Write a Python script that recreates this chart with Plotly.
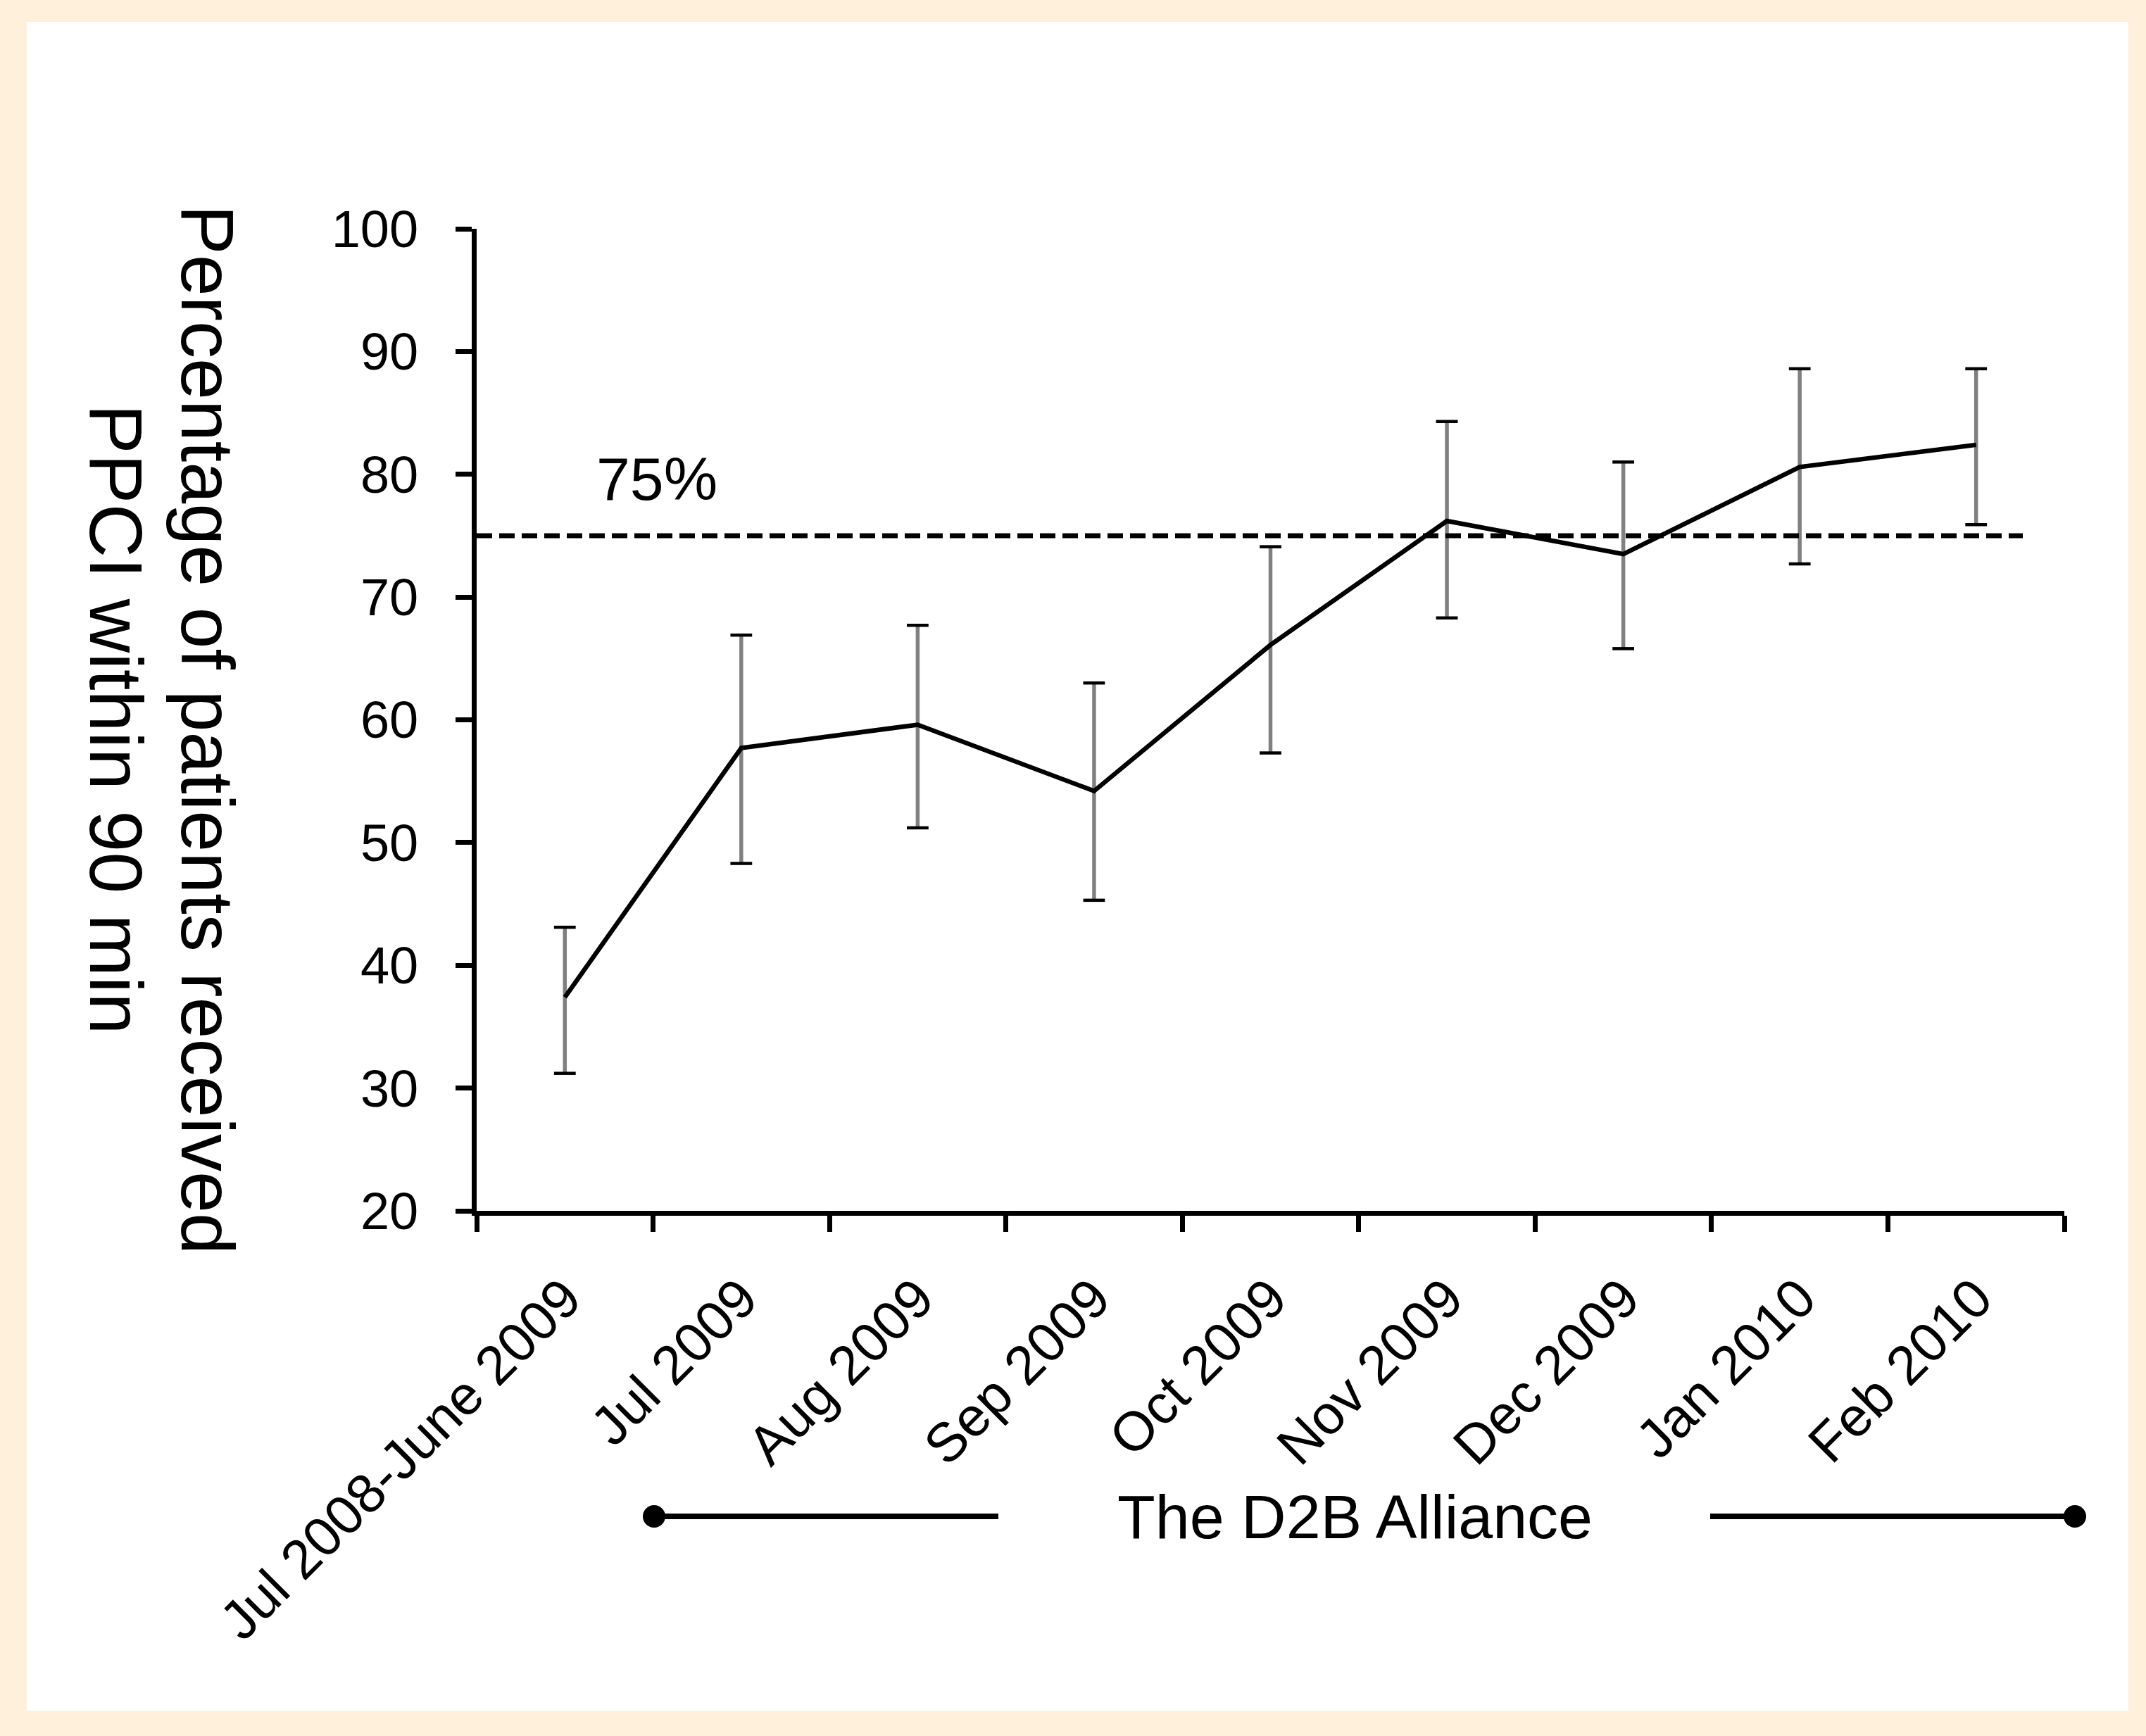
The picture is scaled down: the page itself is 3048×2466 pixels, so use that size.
import plotly.graph_objects as go

# ---------------- data ----------------
categories = ["Jul 2008-June 2009", "Jul 2009", "Aug 2009", "Sep 2009", "Oct 2009",
              "Nov 2009", "Dec 2009", "Jan 2010", "Feb 2010"]
pct_within_90 = [37.4, 57.7, 59.6, 54.2, 66.1, 76.2, 73.5, 80.6, 82.4]
ci_upper = [43.1, 66.9, 67.7, 63.0, 74.1, 84.3, 81.0, 88.6, 88.6]
ci_lower = [31.2, 48.3, 51.2, 45.3, 57.3, 68.3, 65.8, 72.7, 75.9]
target_pct = 75
y_ticks = [20, 30, 40, 50, 60, 70, 80, 90, 100]

# ---------------- geometry (pixels) ----------------
W, H = 3048, 2466
L, R, T, B = 677, 116, 325, 746
PW, PH = W - L - R, H - T - B


def px(xp):
    return (xp - L) / PW


def py(yp):
    return (H - B - yp) / PH


FONT = "Liberation Sans, Arial, sans-serif"

err_plus = [u - v for u, v in zip(ci_upper, pct_within_90)]
err_minus = [v - l for v, l in zip(pct_within_90, ci_lower)]

fig = go.Figure()

# gray error bar stems
fig.add_trace(go.Scatter(
    x=categories, y=pct_within_90, mode="markers",
    marker=dict(size=1, color="rgba(0,0,0,0)"),
    error_y=dict(type="data", symmetric=False, array=err_plus, arrayminus=err_minus,
                 color="#808080", thickness=5.5, width=0),
    hoverinfo="skip", showlegend=False))

# black caps
fig.add_trace(go.Scatter(
    x=categories + categories, y=ci_upper + ci_lower, mode="markers",
    marker=dict(symbol="line-ew", size=22, line=dict(width=4.5, color="black")),
    hoverinfo="skip", showlegend=False))

# main line
fig.add_trace(go.Scatter(
    x=categories, y=pct_within_90, mode="lines",
    line=dict(color="black", width=6.5), showlegend=False))

shapes = [
    # white panel
    dict(type="rect", xref="paper", yref="paper", layer="below",
         x0=px(38), x1=px(3023), y0=py(2430), y1=py(31),
         fillcolor="white", line=dict(width=0)),
    # 75% target line
    dict(type="line", xref="paper", yref="y", layer="above",
         x0=0, x1=px(2873), y0=target_pct, y1=target_pct,
         line=dict(color="black", width=7, dash="22px,10px")),
    # D2B alliance bar segments
    dict(type="line", xref="paper", yref="paper",
         x0=px(929), x1=px(1418), y0=py(2154), y1=py(2154),
         line=dict(color="black", width=8)),
    dict(type="line", xref="paper", yref="paper",
         x0=px(2429), x1=px(2947), y0=py(2154), y1=py(2154),
         line=dict(color="black", width=8)),
]
for cx in (929, 2947):
    shapes.append(dict(type="circle", xref="paper", yref="paper",
                       xsizemode="pixel", ysizemode="pixel",
                       xanchor=px(cx), yanchor=py(2154),
                       x0=-16, x1=16, y0=-16, y1=16,
                       fillcolor="black", line=dict(width=0)))

annotations = [
    dict(text="Percentage of patients received", xref="paper", yref="paper",
         x=px(295), y=py(1036), xanchor="center", yanchor="middle",
         textangle=90, showarrow=False, font=dict(family=FONT, size=106, color="black")),
    dict(text="PPCI within 90 min", xref="paper", yref="paper",
         x=px(165), y=py(1021), xanchor="center", yanchor="middle",
         textangle=90, showarrow=False, font=dict(family=FONT, size=106, color="black")),
    dict(text=f"{target_pct}%", xref="paper", yref="paper",
         x=px(933), y=py(680), xanchor="center", yanchor="middle",
         showarrow=False, font=dict(family=FONT, size=86, color="black")),
    dict(text="The D2B Alliance", xref="paper", yref="paper",
         x=px(1924), y=py(2154), xanchor="center", yanchor="middle",
         showarrow=False, font=dict(family=FONT, size=88, color="black")),
]

fig.update_layout(
    width=W, height=H,
    margin=dict(l=L, r=R, t=T, b=B, pad=0),
    paper_bgcolor="#FEF0DB", plot_bgcolor="rgba(0,0,0,0)",
    shapes=shapes, annotations=annotations, showlegend=False,
    xaxis=dict(type="category", categoryorder="array", categoryarray=categories,
               range=[-0.5, len(categories) - 0.5], tickson="boundaries",
               showline=True, linecolor="black", linewidth=7,
               ticks="outside", ticklen=23, tickwidth=7, tickcolor="black",
               tickangle=-45, ticklabelstandoff=40,
               tickfont=dict(family=FONT, size=78, color="black"),
               showgrid=False, zeroline=False),
    yaxis=dict(range=[20, 100], tickmode="array", tickvals=y_ticks,
               showline=True, linecolor="black", linewidth=7,
               ticks="outside", ticklen=23, tickwidth=7, tickcolor="black",
               ticklabelstandoff=38,
               tickfont=dict(family=FONT, size=74, color="black"),
               showgrid=False, zeroline=False),
)

fig.write_html("out.html", config={"displayModeBar": False},
               post_script="document.body.style.margin='0';document.body.style.overflow='hidden';")
